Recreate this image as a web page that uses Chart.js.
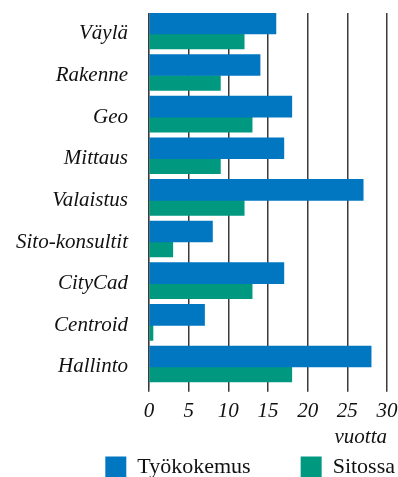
<!DOCTYPE html>
<html>
<head>
<meta charset="utf-8">
<script src="https://cdn.jsdelivr.net/npm/chart.js@4"></script>
<style>
html, body { margin: 0; padding: 0; background: #fff; }
#wrap { width: 398px; height: 477px; }
</style>
</head>
<body>
<div id="wrap"><canvas id="experience-chart"></canvas></div>
<script>
const units = ["Väylä", "Rakenne", "Geo", "Mittaus", "Valaistus",
    "Sito-konsultit", "CityCad", "Centroid", "Hallinto"];
const tyokokemus = [16, 14, 18, 17, 27, 8, 17, 7, 28];
const sitossa = [12, 9, 13, 9, 12, 3, 13, 0.5, 18];
const xTickValues = [0, 5, 10, 15, 20, 25, 30];

const serif = "'Liberation Serif', 'DejaVu Serif', serif";

const experienceContext = document.getElementById("experience-chart");

const experienceData = {
    labels: units,
    datasets: [
        {
            label: "Työkokemus",
            data: tyokokemus,
            backgroundColor: "rgb(0, 119, 192)",
            barThickness: 21,
        },
        {
            label: "Sitossa",
            data: sitossa,
            backgroundColor: "rgb(0, 153, 128)",
            barThickness: 15,
        },
    ],
};

const experienceConfig = {
    type: "bar",
    data: experienceData,
    options: {
        indexAxis: "y",
        responsive: true,
        maintainAspectRatio: false,
        animation: false,
        // odd paddings: legend is wide-spaced and sits partly past the bottom edge
        layout: { padding: { top: 13, right: -47, left: 0, bottom: -11 } },
        scales: {
            x: {
                min: 0,
                max: 30,
                afterBuildTicks: (axis) => {
                    axis.ticks = xTickValues.map((v) => ({ value: v }));
                },
                afterFit: (axis) => {
                    axis.paddingLeft = 0;
                    axis.paddingRight = 11;
                },
                grid: {
                    color: "#3a3a3a",
                    lineWidth: 1.5,
                    drawTicks: true,
                    tickLength: 4,
                },
                border: { display: false },
                ticks: {
                    // mirror + negative padding keeps labels below the axis
                    // without them being clipped by the squeezed axis box
                    mirror: true,
                    color: "#111",
                    padding: -36,
                    font: { family: serif, size: 21, style: "italic" },
                },
                title: {
                    display: true,
                    text: "vuotta",
                    align: "end",
                    color: "#111",
                    padding: { top: 105, bottom: -44 },
                    font: { family: serif, size: 21, style: "italic" },
                },
            },
            y: {
                afterFit: (axis) => {
                    axis.width = 149;
                    axis.paddingTop = 0;
                    axis.paddingBottom = 0;
                },
                grid: { drawOnChartArea: false, drawTicks: false },
                border: { display: true, color: "#888", width: 1 },
                ticks: {
                    color: "#111",
                    padding: 21,
                    font: { family: serif, size: 21, style: "italic" },
                },
            },
        },
        plugins: {
            legend: {
                position: "bottom",
                align: "end",
                labels: {
                    boxWidth: 21,
                    boxHeight: 21,
                    padding: 50,
                    color: "#111",
                    font: { family: serif, size: 22 },
                },
            },
            tooltip: { enabled: false },
        },
    },
};

const experienceChart = new Chart(experienceContext, experienceConfig);
</script>
</body>
</html>
